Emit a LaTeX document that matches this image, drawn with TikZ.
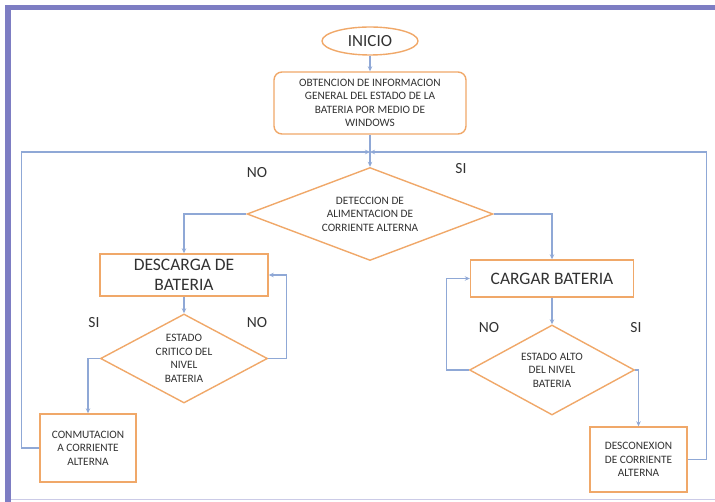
\documentclass[tikz,border=0pt]{standalone}
\usepackage{fontspec}
\setmainfont{Carlito}
\usetikzlibrary{shapes.geometric,arrows.meta}

\definecolor{boxline}{RGB}{240,168,105}
\definecolor{flowline}{RGB}{143,168,214}
\definecolor{frameline}{RGB}{125,125,195}
\definecolor{txt}{RGB}{50,50,50}

\tikzset{
  proc/.style={draw=boxline, line width=1.4pt, fill=white, text=txt,
    align=center, inner sep=2pt},
  decis/.style={diamond, draw=boxline, line width=1.4pt, fill=white,
    text=txt, align=center, inner sep=0pt},
  small/.style={font=\fontsize{11.3}{13.5}\selectfont},
  big/.style={font=\fontsize{17.5}{20}\selectfont},
  lbl/.style={text=txt, font=\fontsize{15.5}{17}\selectfont},
  flow/.style={draw=flowline, line width=1.1pt,
    -{Stealth[length=5pt,width=4.5pt]}}
}

\begin{document}
\begin{tikzpicture}[x=1pt,y=-1pt]
\useasboundingbox (0,0) rectangle (715,502);

% Frame round the picture
\fill[frameline] (5,5) rectangle (715,10);
\fill[frameline] (5,5) rectangle (11,502);
\draw[frameline!40, line width=1pt] (11,499) -- (715,499);

% Start and first step
\node[ellipse, draw=boxline, line width=1.4pt, text=txt,
  minimum width=96, minimum height=28, inner sep=0pt,
  font=\fontsize{17}{19}\selectfont] (inicio) at (370,41) {INICIO};
\node[proc, small, rounded corners=8pt, minimum width=192,
  minimum height=62] (obt) at (370,103)
  {OBTENCION DE INFORMACION\\GENERAL DEL ESTADO DE LA\\BATERIA POR MEDIO DE\\WINDOWS};

% Where the two loops come back
\coordinate (join) at (370,152);

% Is alternating current present?
\node[decis, small, aspect=2.65, minimum width=246, minimum height=93]
  (ac) at (370,214) {DETECCION DE\\ALIMENTACION DE\\CORRIENTE ALTERNA};

% Left branch: running on battery
\node[proc, big, minimum width=168, minimum height=42] (desc) at (184,275)
  {DESCARGA DE\\BATERIA};
\node[decis, small, aspect=1.88, minimum width=167, minimum height=89]
  (crit) at (184,358.5) {ESTADO\\CRITICO DEL\\NIVEL\\BATERIA};
\node[proc, small, minimum width=96, minimum height=68] (conm) at (88,448)
  {CONMUTACION\\A CORRIENTE\\ALTERNA};

% Right branch: charging
\node[proc, big, minimum width=163, minimum height=37] (carg) at (552,278.5)
  {CARGAR BATERIA};
\node[decis, small, aspect=1.83, minimum width=165, minimum height=90]
  (alto) at (552,370) {ESTADO ALTO\\DEL NIVEL\\BATERIA};
\node[proc, small, minimum width=97, minimum height=65] (desco) at (638.5,459.5)
  {DESCONEXION\\DE CORRIENTE\\ALTERNA};

% Connectors
\draw[flow] (inicio) -- (obt);
\draw[flow] (obt) -- (ac);
\draw[flow] (ac.west) -| (desc.north);
\draw[flow] (ac.east) -| (carg.north);
\draw[flow] (desc) -- (crit);
\draw[flow] (crit.east) -- ++(18,0) |- (desc.east);
\draw[flow] (crit.west) -| (conm.north);
\draw[flow] (conm.west) -- ++(-18,0) |- (join);
\draw[flow] (carg) -- (alto);
\draw[flow] (alto.west) -- ++(-22,0) |- (carg.west);
\draw[flow] (alto.east) -| (desco.north);
\draw[flow] (desco.east) -- ++(19,0) |- (join);

% Branch labels
\node[lbl] (no1) at (257,173) {NO};
\node[lbl] (si1) at (461,169) {SI};
\node[lbl] (si2) at (94,323) {SI};
\node[lbl] (no2) at (257,323) {NO};
\node[lbl] (no3) at (489,328) {NO};
\node[lbl] (si3) at (636,328) {SI};
\end{tikzpicture}
\end{document}
